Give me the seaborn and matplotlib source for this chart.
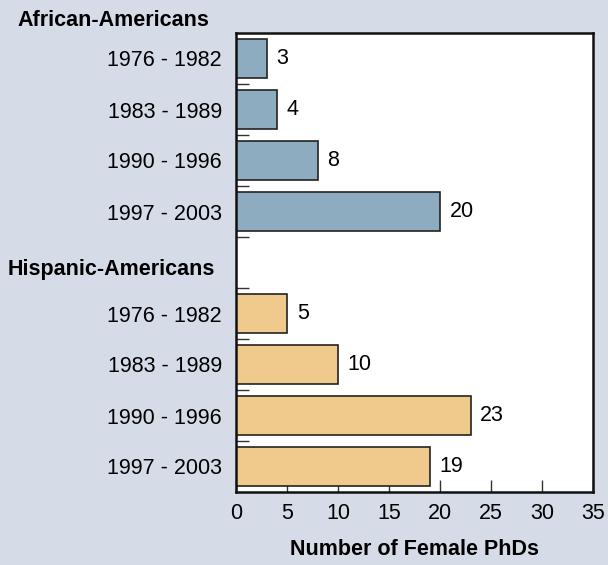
import pandas as pd
import matplotlib.pyplot as plt
import seaborn as sns
from matplotlib.ticker import FixedLocator

# Data
periods = ['1976 - 1982', '1983 - 1989', '1990 - 1996', '1997 - 2003']
groups = ['African-Americans', 'Hispanic-Americans']
african = [3, 4, 8, 20]
hispanic = [5, 10, 23, 19]
colors = {'African-Americans': '#8eacbf', 'Hispanic-Americans': '#efca8c'}

rows = []
for g, vals in zip(groups, [african, hispanic]):
    for p, v in zip(periods, vals):
        rows.append({'slot': g + '|' + p, 'group': g, 'period': p, 'value': v})
data = pd.DataFrame(rows)

# one empty slot between the two groups
order = [groups[0] + '|' + p for p in periods] + ['gap'] + [groups[1] + '|' + p for p in periods]

bg = '#d5dce8'
sns.set_style('white')
plt.rcParams['font.family'] = ['Liberation Sans', 'DejaVu Sans']
plt.rcParams['text.color'] = 'black'
plt.rcParams['xtick.color'] = 'black'
plt.rcParams['ytick.color'] = 'black'

fig = plt.figure(figsize=(6.08, 5.65), dpi=100, facecolor=bg)
ax = fig.add_axes([236 / 608, 1 - 492 / 565, 357 / 608, 459 / 565])

sns.barplot(data=data, x='value', y='slot', hue='group', order=order,
            palette=colors, saturation=1, dodge=False, width=0.75, orient='h',
            edgecolor='#222222', linewidth=1.2, legend=False, ax=ax)

ax.set_xlim(0, 35)
ax.set_ylim(8.5, -0.5)
ax.set_xticks(range(0, 40, 5))
ax.tick_params(axis='x', bottom=True, direction='in', length=9, width=1,
               color='#333333', labelsize=15.5, labelcolor='black', pad=8)

ylabels = ['' if s == 'gap' else s.split('|')[1] for s in order]
ax.set_yticks(range(len(order)))
ax.set_yticklabels(ylabels, fontsize=15.5, color='black')
ax.tick_params(axis='y', which='major', left=True, length=0, pad=10)
ax.yaxis.set_minor_locator(FixedLocator([i + 0.5 for i in range(len(order) - 1)]))
ax.tick_params(axis='y', which='minor', left=True, direction='in', length=9,
               width=1, color='#333333')

for s in ax.spines.values():
    s.set_linewidth(1.8)
    s.set_color('#111111')

ax.set_xlabel('Number of Female PhDs', fontsize=15.5, fontweight='bold',
              labelpad=11, color='black')
ax.set_ylabel('')

# value labels
for bars in ax.containers:
    ax.bar_label(bars, fontsize=15.5, padding=7, color='black')

# group headings
fig.text(17 / 608, 1 - 21 / 565, groups[0], fontsize=15.5, fontweight='bold',
         va='center', ha='left')
fig.text(8 / 608, 1 - 269 / 565, groups[1], fontsize=15.5, fontweight='bold',
         va='center', ha='left')

fig.savefig('out.png', dpi=100, facecolor=bg)
